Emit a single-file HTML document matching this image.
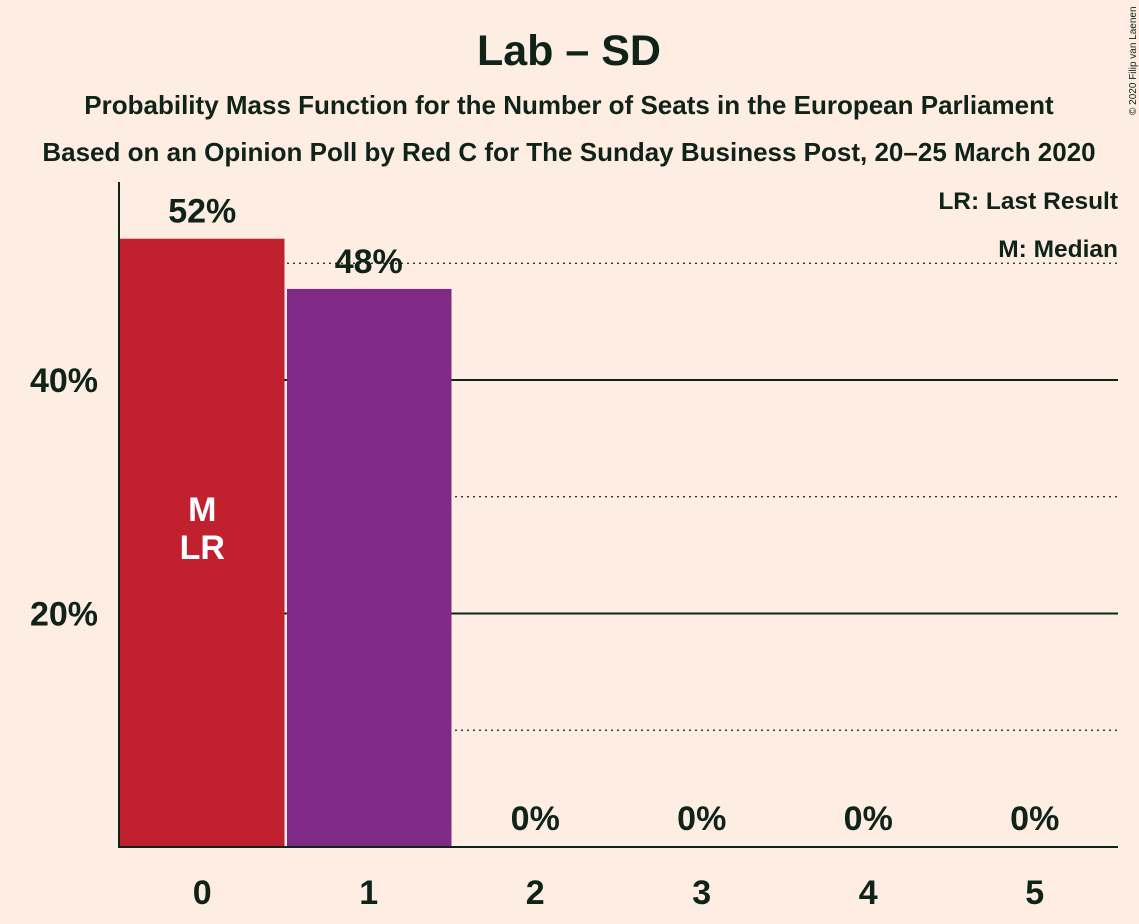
<!DOCTYPE html>
<html><head><meta charset="utf-8"><style>
body{margin:0;background:#FDEDE2;}
svg{display:block;font-family:"Liberation Sans",sans-serif;font-weight:bold;fill:#0f2318;}
</style></head><body>
<svg id="c" width="1139" height="924">
<rect width="1139" height="924" fill="#FDEDE2"/>
<text x="569" y="65" font-size="43" text-anchor="middle">Lab – SD</text>
<text x="569" y="114" font-size="26" text-anchor="middle">Probability Mass Function for the Number of Seats in the European Parliament</text>
<text x="569" y="161" font-size="26" text-anchor="middle">Based on an Opinion Poll by Red C for The Sunday Business Post, 20–25 March 2020</text>
<text x="1118" y="209" font-size="24.5" text-anchor="end">LR: Last Result</text>
<text x="1118" y="257" font-size="24.5" text-anchor="end">M: Median</text>
<text transform="translate(1136,115) rotate(-90)" font-size="10" font-weight="normal">© 2020 Filip van Laenen</text>
<g id="grid"></g><g id="bars"></g><g id="labels"></g>
<line x1="119" y1="182" x2="119" y2="848" stroke="#0f2318" stroke-width="2"/>
<line x1="118" y1="847" x2="1118" y2="847" stroke="#0f2318" stroke-width="2"/>
</svg>
<script>
const categories=[0,1,2,3,4,5];
const values=[52.1,47.8,0,0,0,0];
const valueLabels=["52%","48%","0%","0%","0%","0%"];
const colors=["#C1202E","#7F2A87","#7F2A87","#7F2A87","#7F2A87","#7F2A87"];
const gridValues=[10,20,30,40,50];
const tickLabels=["20%","40%"];
const tickValues=[20,40];
const NS="http://www.w3.org/2000/svg";
const x0=119,x1=1118,y0=847,pxPer=233.5/20;
const bw=(x1-x0)/categories.length;
const y=v=>y0-v*pxPer;
const xs=i=>x0+i*bw;
function mk(t,a,p){const e=document.createElementNS(NS,t);for(const k in a)e.setAttribute(k,a[k]);p.appendChild(e);return e;}
const G=document.getElementById('grid'),B=document.getElementById('bars'),L=document.getElementById('labels');
gridValues.forEach(g=>{const solid=g%20===0;
const l=mk('line',{x1:x0,x2:x1,y1:y(g),y2:y(g),stroke:'#0f2318','stroke-width':solid?2:1.3,'stroke-dasharray':solid?'':'2,4'},G);

});
tickValues.forEach((t,i)=>{const e=mk('text',{x:98,y:y(t)+12,'font-size':34,'text-anchor':'end'},L);e.textContent=tickLabels[i];

});
categories.forEach((c,i)=>{
if(values[i]>0){const r=mk('rect',{x:xs(i)+(i?1.5:0.5),y:y(values[i]),width:bw-(i?2:1.5),height:y0-y(values[i]),fill:colors[i]},B);

}
const cx=xs(i)+bw/2;
const vy=values[i]>0?y(values[i])-16:y0-17;
const t=mk('text',{x:cx,y:vy,'font-size':34,'text-anchor':'middle'},L);t.textContent=valueLabels[i];


const xl=mk('text',{x:cx,y:904,'font-size':34,'text-anchor':'middle'},L);xl.textContent=c;


});
const m=mk('text',{x:xs(0)+bw/2,y:521,'font-size':34,'text-anchor':'middle',fill:'#fff'},L);m.textContent='M';


const lr=mk('text',{x:xs(0)+bw/2,y:559,'font-size':34,'text-anchor':'middle',fill:'#fff'},L);lr.textContent='LR';


</script>
</body></html>
